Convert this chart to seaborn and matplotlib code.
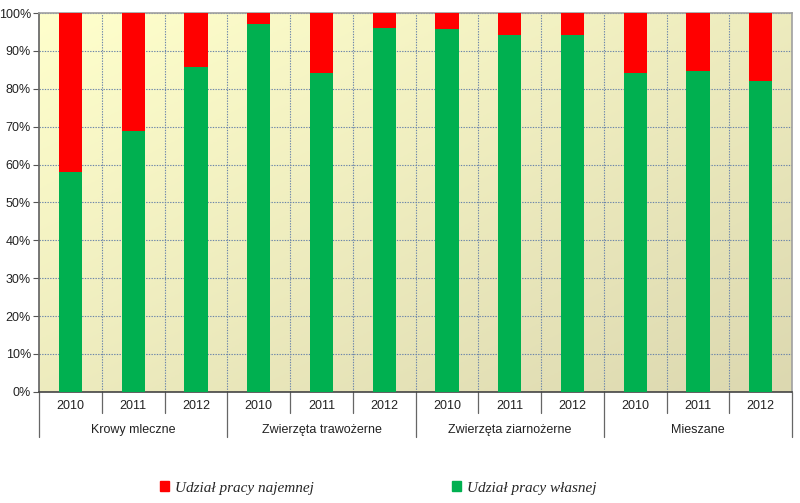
import numpy as np
import pandas as pd
import matplotlib
matplotlib.use("Agg")
import matplotlib.pyplot as plt
import seaborn as sns
from matplotlib.patches import Rectangle
from matplotlib.colors import LinearSegmentedColormap

# data
groups = ['Krowy mleczne', 'Zwierzęta trawożerne', 'Zwierzęta ziarnożerne', 'Mieszane']
years = ['2010', '2011', '2012']
own_share = [58.0, 68.8, 85.7, 97.0, 84.2, 96.0, 95.8, 94.3, 94.3, 84.2, 84.6, 82.0]
hired_share = [100 - v for v in own_share]

rows = []
for i, (g, y) in enumerate([(g, y) for g in groups for y in years]):
    rows.append({'bar': f'{g}|{y}', 'group': g, 'year': y,
                 'own': own_share[i], 'total': own_share[i] + hired_share[i]})
df = pd.DataFrame(rows)

sns.set_theme(style='white')
plt.rcParams['font.family'] = ['Liberation Sans Narrow', 'Liberation Sans', 'DejaVu Sans']

fig = plt.figure(figsize=(8, 5.03), dpi=100)
ax = fig.add_axes([0.049, 0.221, 0.941, 0.753])

# background gradient (light yellow top-left -> tan bottom-right)
cmap = LinearSegmentedColormap.from_list('bg', ['#FFFFCC', '#DCD8B0'])
gx, gy = np.meshgrid(np.linspace(0, 1, 200), np.linspace(0, 1, 200))
ax.imshow(gx * 0.5 + gy * 0.5, cmap=cmap, extent=[0, 1, 0, 1],
          transform=ax.transAxes, aspect='auto', zorder=0, origin='upper')

order = df['bar'].tolist()
sns.barplot(data=df, x='bar', y='total', order=order, color='#FF0000',
            width=0.37, saturation=1, linewidth=0, ax=ax, zorder=3)
sns.barplot(data=df, x='bar', y='own', order=order, color='#00B050',
            width=0.37, saturation=1, linewidth=0, ax=ax, zorder=3)

ax.set_xlim(-0.5, len(order) - 0.5)
ax.set_ylim(0, 100)
ax.set_yticks(range(0, 101, 10))
ax.set_yticklabels([f'{v}%' for v in range(0, 101, 10)], fontsize=9, color='#222222')
ax.set_xticks([])
ax.set_xticks(np.arange(0.5, len(order) - 1, 1), minor=True)
ax.tick_params(axis='x', which='both', length=0)
ax.tick_params(axis='y', length=4, width=0.8, color='#555555', direction='out', left=True, pad=2)
ax.set_xlabel('')
ax.set_ylabel('')

ax.grid(axis='y', which='major', color='#6A84AA', linestyle=(0, (1.2, 1.2)), linewidth=0.8, zorder=1)
ax.grid(axis='x', which='minor', color='#6A84AA', linestyle=(0, (1.2, 1.2)), linewidth=0.8, zorder=1)
ax.set_axisbelow(True)

for side in ['top', 'right']:
    ax.spines[side].set_color('#A0A0A0')
    ax.spines[side].set_linewidth(1.2)
ax.spines['left'].set_color('#666666')
ax.spines['bottom'].set_color('#444444')
ax.spines['bottom'].set_linewidth(1.2)

# two-level category axis
tr = ax.get_xaxis_transform()
for i, row in df.iterrows():
    ax.text(i, -0.038, row['year'], transform=tr, ha='center', va='center', fontsize=9, color='#222222')
for b in np.arange(-0.5, len(order), 1):
    gb = (b + 0.5) % 3 == 0
    ax.plot([b, b], [0, -0.12 if gb else -0.056], transform=tr, color='#666666',
            linewidth=0.9, clip_on=False)
for k, g in enumerate(groups):
    ax.text(3 * k + 1, -0.101, g, transform=tr, ha='center', va='center', fontsize=9, color='#222222')

handles = [Rectangle((0, 0), 1, 1, color='#FF0000'), Rectangle((0, 0), 1, 1, color='#00B050')]
fig.legend(handles, ['Udział pracy najemnej', 'Udział pracy własnej'], ncol=2,
           loc='center left', bbox_to_anchor=(0.183, 0.03), frameon=False,
           prop={'family': 'Liberation Serif', 'style': 'italic', 'size': 11},
           handlelength=0.6, handleheight=0.6, handletextpad=0.4, columnspacing=9.0)

fig.savefig('out.png', dpi=100)
